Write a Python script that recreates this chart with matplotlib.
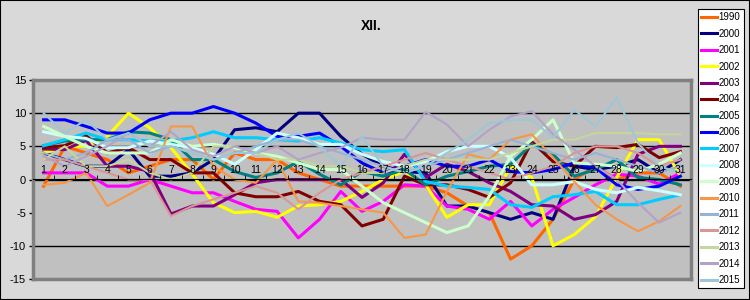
import matplotlib
matplotlib.use("Agg")
import matplotlib.pyplot as plt

plt.rcParams['font.family'] = ['Liberation Sans', 'DejaVu Sans']

# December daily values, one list per year
days = list(range(1, 32))
years = ['1990', '2000', '2001', '2002', '2003', '2004', '2005', '2006', '2007',
         '2008', '2009', '2010', '2011', '2012', '2013', '2014', '2015']

y1990 = [-1, 5, 4, 3, 1, 2, 3, 3, 0, 4, 3, 3, 1, 0, -1, -1, -1, -1, -1, -2, -4, -5, -12, -10, -6, 0, 2, 0, 1, 1, -1]
y2000 = [4, 3, 2, 2, 4.5, 0.5, 0.5, 1, 3, 7.5, 7.8, 7.2, 10, 10, 6.5, 3.8, 2, 1.2, 1, -4, -4, -5, -6, -5, -6, 2, 1.5, 2, 3, 1, 3]
y2001 = [1, 1, 1, -1, -1, 0, -1, -2, -2, -3.3, -4.5, -4.8, -8.8, -6, -1.8, -4.8, -3.3, -0.8, -1, -4, -4.5, -6, -3.3, -7, -4.5, -2.7, -0.8, 0.8, 0.5, -0.7, 1]
y2002 = [4, 5, 5, 6.5, 10, 7.8, 4.8, 0.8, -3.5, -5, -4.8, -5.7, -4, -3.8, -3.3, -1.8, 0, 1.2, -0.8, -5.7, -3.8, -3.8, 2, 0.3, -10, -8.3, -5.6, 0.3, 6, 6, 0.5]
y2003 = [4.6, 4.5, 5.9, 2, 2, 1.2, -5.2, -4, -4, -2.3, -0.5, 0, 0, 0, 0, -2.7, -0.5, 3.8, 0.3, 2.3, 1.2, -0.5, -1.8, -3.8, -4, -6, -5.3, -3.3, 3.8, 5, 5]
y2004 = [4.8, 5.1, 6.6, 4, 4.8, 3, 3, 1, 1, -2, -2.6, -2.6, -1.8, -3.3, -3.8, -7, -6, 0.5, -0.8, -0.8, -1.5, -2.7, -0.5, 5.7, 2.7, 2, 5, 4.8, 5.3, 3.3, 4.2]
y2005 = [5.1, 5.8, 6, 6, 7.2, 7, 6, 3, 3, 1.2, 0.3, 1, 2.7, 0.8, -0.8, 1.2, 0.5, 1.5, -0.8, 0.5, 1.2, 2, 2.3, 5.3, 3.8, 0.5, 1.5, 3, 0.3, 0, -0.8]
y2006 = [9, 9, 8, 7, 7, 9, 10, 10, 11, 10, 8.5, 6.5, 6.5, 7, 5, 2.5, 1, 2, 3, 2, 2, 3, 1.2, 1, 1.5, 2.5, 1.8, -0.8, -1.5, -1, 0.5]
y2007 = [5.1, 6, 7, 6, 6, 5.8, 5.8, 6.3, 7.2, 6.3, 6.3, 6, 5.8, 6.3, 5.5, 4.5, 4.2, 4.5, -0.3, -1, -1.2, -1.5, -3.8, -4.2, -2.6, -2.3, -1.8, -3.8, -3.8, -3, -2.3]
y2008 = [7.2, 6.5, 6.2, 4.8, 4.8, 5.8, 5.3, 4.8, 3.8, 2.3, 4.5, 7, 6.3, 5.3, 5.3, 3.8, 2.7, 2, 2.7, 4.2, 5, 5, 3.3, -0.8, -0.8, -0.3, -1.5, -2, -1.2, -1.7, -2.3]
y2009 = [8, 6.5, 5, 4, 4, 4, 6, 5, 5.3, 4.8, 4, 3.5, 2.5, 1.5, 1.5, -1, -3.5, -5, -6.5, -8, -7, -2.5, 3.5, 6, 9, 2.5, 2.3, 2, 1.2, 2.3, 4]
y2010 = [-0.8, -0.5, 1, -4, -2.3, -0.5, 8, 8, 2, 0, -0.5, 3, -3.3, -3.5, -4, -4.5, -5, -8.8, -8.3, -1.8, 3.8, 3, 6, 6.8, 3.3, -0.3, -3.8, -6, -7.8, -6.3, -4]
y2011 = [4, 3, 4, 6, 6, 4, 5, 4, 3, 4, 5, 6, 6, 5, 4, 3, 2, 1, 2, 3, 4, 5, 6, 5, 4, 3, 4, 3, 2, 1, 2]
y2012 = [3, 3, 2, 1, 0, 0, -5.5, -4, -3, -2, -1, -2, -4.5, -2, 0, 1, 2, 3, 4, 3, 2, 1, 0, 1, 2, 4, 5, 5, 4, 2, 3]
y2013 = [3, 5, 2, 2, 3, 1, 0, 1, 5, 5, 4, 3, 3, 2, 2, 1, 1, 2, 3, 3, 3, 3, 4, 5, 6, 6, 7, 7, 7, 6.8, 6.8]
y2014 = [3.5, 2, 3.5, 5, 7, 5, 7.2, 4.5, 3.5, 5, 4, 5, 3, 4, 4.8, 6.3, 6, 6, 10.2, 8.3, 5, 7.5, 9.5, 10.3, 6.8, 4.5, 2, 0, -3.5, -6.5, -5]
y2015 = [10, 7, 9, 6, 7, 5, 5, 4, 3, 4, 4, 6, 7, 5, 2, 6.5, 2, 1, 2, 4, 6, 8.5, 9, 9, 6.3, 10.5, 8, 12.4, 5.5, 2, 1]

series = [y1990, y2000, y2001, y2002, y2003, y2004, y2005, y2006, y2007,
          y2008, y2009, y2010, y2011, y2012, y2013, y2014, y2015]
colors = ['#FF6600', '#000080', '#FF00FF', '#FFFF00', '#800080', '#800000', '#008080',
          '#0000FF', '#00CCFF', '#CCFFFF', '#CCFFCC', '#F79646', '#95B3D7', '#D99694',
          '#C3D69B', '#B3A2C7', '#9DC7D8']

fig = plt.figure(figsize=(7.5, 3), dpi=100, facecolor='#D9D9D9')
fig.patches.append(plt.Rectangle((0, 0), 1, 1, transform=fig.transFigure,
                                 fill=False, edgecolor='black', linewidth=1.5))
ax = fig.add_axes([33 / 750, 21 / 300, 658 / 750, 199 / 300], facecolor='#C0C0C0')

for vals, col, lab in zip(series, colors, years):
    lw = 2.2 if int(lab) < 2010 else 1.5
    ax.plot(days, vals, color=col, linewidth=lw, label=lab)

for g in [10, 5, 0, -10]:
    ax.axhline(g, color='black', linewidth=1, zorder=0.5)

ax.set_xlim(0.5, 31.5)
ax.set_ylim(-15, 15)
ax.set_yticks([-15, -10, -5, 0, 5, 10, 15])
ax.set_yticklabels(['-15', '-10', '-5', '0', '5', '10', '15'])
ax.tick_params(axis='y', labelsize=8, length=3, width=1, color='black', pad=2)
ax.set_xticks([])
for s in ax.spines.values():
    s.set_color('#808080')
    s.set_linewidth(2.5)

# category labels sit on the zero line, drawn above the lines
sec = ax.secondary_xaxis(0.5)
sec.set_zorder(5)
sec.set_xticks(days)
sec.set_xticklabels([str(d) for d in days])
sec.tick_params(axis='x', labelsize=7.5, length=0, pad=3)
sec.set_xticks([d + 0.5 for d in days[:-1]], minor=True)
sec.tick_params(axis='x', which='minor', length=3, color='black')
sec.spines['bottom'].set_visible(False)

fig.text(0.495, 0.915, 'XII.', fontsize=10, fontweight='bold', ha='center', va='center')

leg = fig.legend(loc='upper left', bbox_to_anchor=(698 / 750, 1 - 9 / 300), fontsize=7,
                 handlelength=1.6, handletextpad=0.15, labelspacing=0.66,
                 borderpad=0.35, borderaxespad=0, fancybox=False, framealpha=1)
leg.get_frame().set_edgecolor('black')
leg.get_frame().set_linewidth(0.8)
for line in leg.get_lines():
    line.set_linewidth(2.2)

fig.savefig('out.png', dpi=100, facecolor=fig.get_facecolor())
